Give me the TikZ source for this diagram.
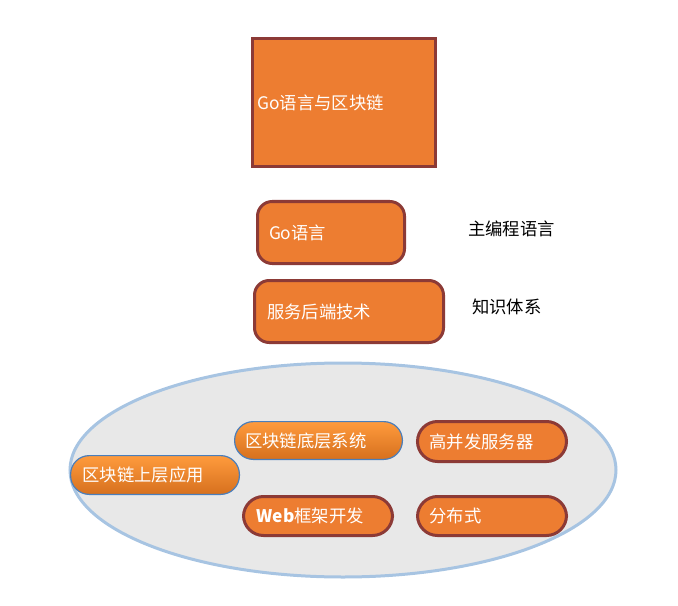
\documentclass[tikz,border=0pt]{standalone}
\usepackage{fontspec}
\setmainfont{Noto Sans CJK SC}
\usetikzlibrary{positioning}
\definecolor{tileorange}{HTML}{ED7D31}
\definecolor{tileedge}{HTML}{8C3A36}
\definecolor{ringblue}{HTML}{A7C4E2}
\definecolor{ringfill}{HTML}{E8E8E8}
\definecolor{gradtop}{HTML}{FF9B3D}
\definecolor{gradbot}{HTML}{D6701E}
\definecolor{gradedge}{HTML}{4A7EBB}
\tikzset{
  tile/.style={draw=tileedge, line width=2.25pt, fill=tileorange, text=white,
    anchor=north west, align=left, inner xsep=0pt, font=\fontsize{13}{15}\selectfont},
  gradtile/.style={draw=gradedge, line width=0.9pt, top color=gradtop, bottom color=gradbot,
    text=white, anchor=north west, align=left, inner xsep=0pt, font=\fontsize{13}{15}\selectfont},
  note/.style={text=black, anchor=west, inner sep=0pt, font=\fontsize{13}{15}\selectfont}
}
\begin{document}
\begin{tikzpicture}[x=0.75pt, y=-0.75pt]
    \useasboundingbox (0,0) rectangle (678,606);
    % Outer ring holding the topic tiles
    \draw[ringblue, line width=2.25pt, fill=ringfill] (343,470) ellipse (204.75pt and 80.25pt);

    % Title block
    \node[tile, minimum width=137.25pt, minimum height=96pt, text width=130pt] (title) at (251,37) {Go语言与区块链};

    % Language and knowledge rows
    \node[tile, rounded corners=11pt, minimum width=110.25pt, minimum height=46.5pt, text width=93pt] (golang) at (256,200) {Go语言};
    \node[tile, rounded corners=11pt, minimum width=141.75pt, minimum height=46.5pt, text width=123pt] (backend) at (253,279) {服务后端技术};
    \node[note] (mainlang) at (468,229) {主编程语言};
    \node[note] (knowledge) at (472,307) {知识体系};

    % Tiles inside the ring
    \node[gradtile, rounded corners=14pt, minimum width=125.85pt, minimum height=28.35pt, text width=110pt] (chainbase) at (234,421) {区块链底层系统};
    \node[gradtile, rounded corners=14pt, minimum width=126.6pt, minimum height=29.1pt, text width=109pt] (chainapp) at (70,455) {区块链上层应用};
    \node[tile, rounded corners=15pt, minimum width=111.75pt, minimum height=30pt, text width=94pt] (concurrency) at (416,420) {高并发服务器};
    \node[tile, rounded corners=15pt, minimum width=111.75pt, minimum height=29.25pt, text width=92pt] (webframe) at (242,495) {\textbf{Web}框架开发};
    \node[tile, rounded corners=15pt, minimum width=111.75pt, minimum height=29.25pt, text width=94pt] (distributed) at (416,495) {分布式};
\end{tikzpicture}
\end{document}
